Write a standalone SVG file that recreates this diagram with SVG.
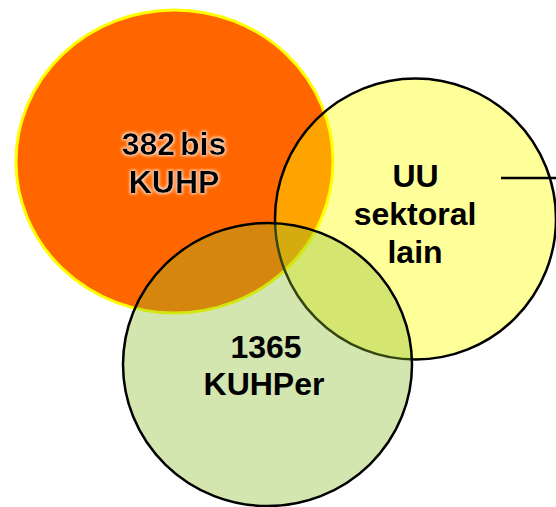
<svg xmlns="http://www.w3.org/2000/svg" width="556" height="507" viewBox="0 0 556 507">
  <defs>
    <style>
      .label { font-family: "Liberation Sans", Arial, sans-serif; font-weight: bold; font-size: 32px; fill: #000000; text-anchor: middle; }
      .outline { stroke: #000000; stroke-width: 2.5; }
    </style>
    <!-- soft light halo behind the dark label on the orange set -->
    <filter id="halo" x="-20%" y="-30%" width="140%" height="160%">
      <feMorphology in="SourceAlpha" operator="dilate" radius="0.6" result="grown"/>
      <feGaussianBlur in="grown" stdDeviation="1.6" result="soft"/>
      <feFlood flood-color="#FFFFFF" flood-opacity="0.8"/>
      <feComposite in2="soft" operator="in" result="glow"/>
      <feMerge>
        <feMergeNode in="glow"/>
        <feMergeNode in="SourceGraphic"/>
      </feMerge>
    </filter>
  </defs>

  <rect x="0" y="0" width="556" height="507" fill="#FFFFFF"/>

  <!-- set: 382 bis KUHP -->
  <g id="kuhp">
    <ellipse cx="174.5" cy="161.5" rx="158.5" ry="151.5" fill="#FF6600" stroke="#FFFF00" stroke-width="3"/>
    <g filter="url(#halo)">
      <text class="label" x="174" y="155" word-spacing="-4">382 bis</text>
      <text class="label" x="174" y="193">KUHP</text>
    </g>
  </g>

  <!-- set: UU sektoral lain -->
  <g id="uu-sektoral">
    <circle cx="415.5" cy="219" r="140.5" fill="#FFFF00" fill-opacity="0.4" class="outline"/>
    <text class="label" x="415.5" y="187">UU</text>
    <text class="label" x="415" y="225">sektoral</text>
    <text class="label" x="415" y="263">lain</text>
  </g>

  <!-- set: 1365 KUHPer -->
  <g id="kuhper">
    <ellipse cx="267.5" cy="364.5" rx="144.5" ry="141.5" fill="#8BBC28" fill-opacity="0.373" class="outline"/>
    <text class="label" x="266" y="358">1365</text>
    <text class="label" x="264" y="395">KUHPer</text>
  </g>

  <!-- connectors -->
  <g id="connectors">
    <line x1="501" y1="178" x2="556" y2="178" stroke="#000000" stroke-width="2.4"/>
  </g>
</svg>
